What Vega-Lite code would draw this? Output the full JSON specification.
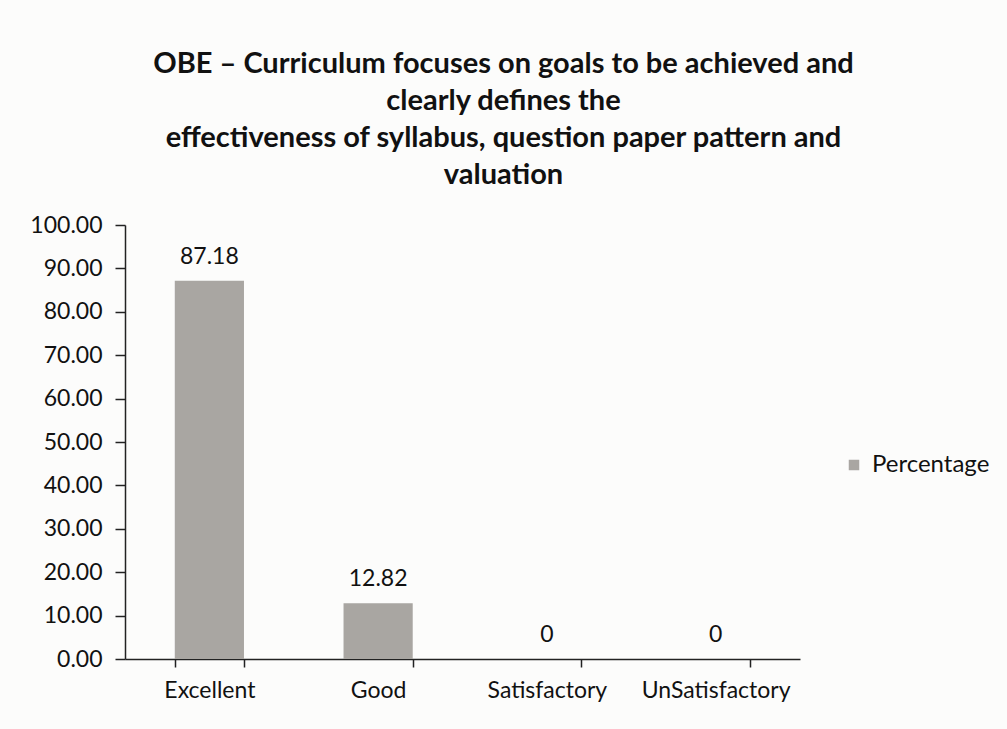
{
  "$schema": "https://vega.github.io/schema/vega-lite/v6.json",
  "autosize": {"type": "none"},
  "width": 675,
  "height": 434,
  "padding": {"left": 125, "top": 225, "right": 207, "bottom": 70},
  "background": "#fcfcfb",
  "config": {
    "font": "Lato",
    "view": {"stroke": null}
  },
  "title": {
    "text": ["OBE – Curriculum focuses on goals to be achieved and", "clearly defines the", "effectiveness of syllabus, question paper pattern and", "valuation"],
    "font": "Lato",
    "fontSize": 29,
    "fontWeight": "bold",
    "color": "#111111",
    "lineHeight": 37,
    "anchor": "middle",
    "dx": 41,
    "offset": 24
  },
  "data": {
    "values": [
      {"category": "Excellent", "value": 87.18, "series": "Percentage"},
      {"category": "Good", "value": 12.82, "series": "Percentage"},
      {"category": "Satisfactory", "value": 0, "series": "Percentage"},
      {"category": "UnSatisfactory", "value": 0, "series": "Percentage"}
    ]
  },
  "encoding": {
    "x": {
      "field": "category",
      "type": "nominal",
      "sort": null,
      "scale": {"paddingInner": 0.59, "paddingOuter": 0.295},
      "axis": {
        "title": null,
        "labelAngle": 0,
        "labelFont": "Lato",
        "labelFontSize": 23,
        "labelColor": "#111111",
        "labelPadding": 12,
        "tickBand": "extent",
        "tickSize": 8,
        "tickColor": "#222222",
        "domainColor": "#222222",
        "domainWidth": 1.5,
        "tickWidth": 1.5
      }
    },
    "y": {
      "field": "value",
      "type": "quantitative",
      "scale": {"domain": [0, 100]},
      "axis": {
        "title": null,
        "values": [0, 10, 20, 30, 40, 50, 60, 70, 80, 90, 100],
        "format": ".2f",
        "grid": false,
        "labelFont": "Lato",
        "labelFontSize": 23,
        "labelColor": "#111111",
        "labelPadding": 13,
        "tickSize": 10,
        "tickColor": "#222222",
        "domainColor": "#222222",
        "domainWidth": 1.5,
        "tickWidth": 1.5
      }
    }
  },
  "layer": [
    {
      "mark": {"type": "bar"},
      "encoding": {
        "color": {
          "field": "series",
          "type": "nominal",
          "scale": {"range": ["#a9a6a2"]},
          "legend": {
            "title": null,
            "orient": "none",
            "legendX": 717,
            "legendY": 228,
            "symbolType": "square",
            "symbolSize": 110,
            "symbolStrokeWidth": 0,
            "labelFont": "Lato",
            "labelFontSize": 24,
            "labelColor": "#111111",
            "labelOffset": 6
          }
        }
      }
    },
    {
      "mark": {"type": "text", "baseline": "bottom", "dy": -12, "font": "Lato", "fontSize": 23, "color": "#111111"},
      "encoding": {
        "text": {"field": "value", "type": "quantitative"}
      }
    }
  ]
}
